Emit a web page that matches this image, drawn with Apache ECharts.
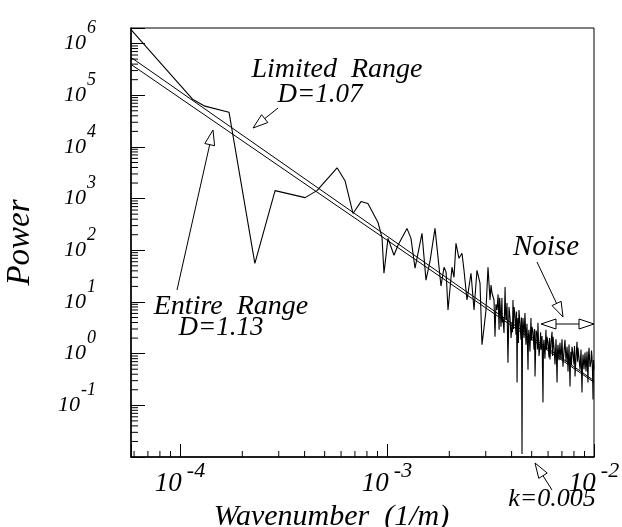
<!DOCTYPE html>
<html>
<head>
<meta charset="utf-8">
<script src="https://cdn.jsdelivr.net/npm/echarts@6/dist/echarts.min.js"></script>
<style>
html, body { margin: 0; padding: 0; background: #fff; }
#chart { width: 622px; height: 527px; }
</style>
</head>
<body>
<div id="chart"></div>
<script>
// spectrum (wavenumber in 1/m, power)
var wavenumber = [
  5.80e-5, 1.15e-4, 1.32e-4, 1.725e-4, 2.30e-4, 2.88e-4, 4.02e-4, 4.59e-4, 5.74e-4, 6.27e-4,
  6.85e-4, 7.49e-4, 8.09e-4, 9.05e-4, 9.46e-4, 9.67e-4, 1.011e-3, 1.081e-3, 1.130e-3, 1.249e-3,
  1.306e-3, 1.366e-3, 1.476e-3, 1.543e-3, 1.613e-3, 1.706e-3, 1.744e-3, 1.823e-3, 1.886e-3, 1.93e-3,
  1.971e-3, 2.061e-3, 2.107e-3, 2.154e-3, 2.227e-3, 2.303e-3, 2.355e-3, 2.435e-3, 2.546e-3, 2.633e-3,
  2.721e-3, 2.814e-3, 2.877e-3, 2.942e-3, 3.008e-3, 3.076e-3, 3.146e-3, 3.181e-3, 3.215e-3, 3.288e-3,
  3.325e-3, 3.36e-3, 3.40e-3, 3.44e-3, 3.48e-3, 3.50e-3, 3.52e-3, 3.555e-3, 3.59e-3, 3.61e-3,
  3.63e-3, 3.675e-3, 3.72e-3, 3.74e-3, 3.76e-3, 3.80e-3, 3.84e-3, 3.885e-3, 3.93e-3, 3.975e-3,
  4.02e-3, 4.04e-3, 4.06e-3, 4.085e-3, 4.11e-3, 4.155e-3, 4.20e-3, 4.225e-3, 4.25e-3, 4.27e-3,
  4.29e-3, 4.315e-3, 4.34e-3, 4.39e-3, 4.44e-3, 4.465e-3, 4.49e-3, 4.515e-3, 4.54e-3, 4.59e-3,
  4.64e-3, 4.665e-3, 4.69e-3, 4.745e-3, 4.80e-3, 4.825e-3, 4.85e-3, 4.905e-3, 4.96e-3, 4.99e-3,
  5.02e-3, 5.075e-3, 5.13e-3, 5.16e-3, 5.19e-3, 5.25e-3, 5.31e-3, 5.335e-3, 5.36e-3, 5.425e-3,
  5.49e-3, 5.52e-3, 5.55e-3, 5.61e-3, 5.67e-3, 5.70e-3, 5.73e-3, 5.795e-3, 5.86e-3, 5.895e-3,
  5.93e-3, 5.995e-3, 6.06e-3, 6.095e-3, 6.13e-3, 6.20e-3, 6.27e-3, 6.305e-3, 6.34e-3, 6.41e-3,
  6.48e-3, 6.555e-3, 6.63e-3, 6.665e-3, 6.70e-3, 6.775e-3, 6.85e-3, 6.89e-3, 6.93e-3, 7.005e-3,
  7.08e-3, 7.16e-3, 7.24e-3, 7.325e-3, 7.41e-3, 7.45e-3, 7.49e-3, 7.575e-3, 7.66e-3, 7.70e-3,
  7.74e-3, 7.785e-3, 7.83e-3, 7.915e-3, 8.00e-3, 8.05e-3, 8.10e-3, 8.19e-3, 8.28e-3, 8.325e-3,
  8.37e-3, 8.465e-3, 8.56e-3, 8.655e-3, 8.75e-3, 8.80e-3, 8.85e-3, 8.95e-3, 9.05e-3, 9.10e-3,
  9.15e-3, 9.25e-3, 9.35e-3, 9.405e-3, 9.46e-3, 9.565e-3, 9.67e-3, 9.725e-3, 9.78e-3, 9.835e-3,
  9.89e-3, 9.945e-3, 1.00e-2
];
var power = [
  1.86e6, 8.4e4, 6.15e4, 4.7e4, 56, 1425, 1045, 1425, 3945, 2220,
  515, 876, 801, 345, 178, 36, 170, 80, 125, 265,
  170, 45, 212, 26.5, 61, 265, 114, 20.3, 47, 37.8,
  7.0, 47, 30, 136, 70, 87.5, 41, 10.9, 36, 7.0,
  41, 23.2, 1.49, 3.16, 7.0, 47, 10.9, 21.2, 14.9, 10.9,
  2.12, 9.0, 7.0, 14, 2.9, 12, 8.75, 3.3, 11.9, 4.0,
  5.1, 2.5, 19.4, 6.0, 4.5, 9.5, 0.67, 8.0, 4.9, 2.0,
  4.1, 2.6, 10.9, 3.0, 8.0, 5.5, 2.32, 6.5, 0.277, 3.5,
  4.9, 1.6, 7.0, 3.9, 1.86, 5.0, 0.0114, 3.0, 4.9, 2.0,
  6.1, 3.2, 1.49, 3.8, 0.49, 2.2, 2.9, 1.1, 4.9, 1.8,
  3.3, 2.6, 1.19, 3.0, 0.36, 2.8, 2.32, 1.2, 3.95, 0.9,
  1.49, 2.6, 1.19, 2.2, 0.114, 1.4, 1.86, 0.8, 2.9, 1.2,
  2.12, 1.6, 0.84, 2.0, 0.77, 1.7, 2.65, 0.9, 2.12, 1.3,
  0.615, 1.9, 0.277, 1.1, 1.49, 0.75, 1.63, 1.0, 0.77, 1.9,
  0.56, 1.1, 1.86, 0.7, 1.36, 0.9, 0.45, 1.5, 0.232, 0.8,
  1.09, 0.6, 1.36, 1.0, 0.615, 1.4, 0.36, 0.9, 1.70, 0.7,
  1.30, 0.8, 0.49, 1.2, 0.178, 0.6, 0.957, 0.5, 1.05, 0.65,
  0.45, 1.1, 0.277, 0.9, 1.30, 0.55, 0.70, 1.15, 0.875, 0.45,
  0.130, 0.75, 0.49
];

// fitted power laws, end points
var limitedK = [5.8e-5, 1e-2];
var limitedP = [5.4e5, 0.30];
var entireK = [5.8e-5, 1e-2];
var entireP = [3.95e5, 0.28];

// axes
var xMin = 5.8e-5, xMax = 1e-2;
var yMin = 1e-2, yMax = 2e6;
var xLabelExp = [-4, -3, -2];
var yLabelExp = [-1, 0, 1, 2, 3, 4, 5, 6];

var serif = 'Liberation Serif';

function zip(a, b) {
  return a.map(function (v, i) { return [v, b[i]]; });
}

function expOf(v, list) {
  var l = Math.log10(v);
  var e = Math.round(l);
  if (Math.abs(l - e) > 1e-6 || list.indexOf(e) < 0) return null;
  return e;
}

// minor ticks 2..9 per decade
var xMinor = [], yMinor = [];
for (var d = -5; d <= -3; d++) {
  for (var m = 2; m <= 9; m++) {
    var v = m * Math.pow(10, d);
    if (v > xMin && v < xMax) xMinor.push([v, yMin]);
  }
}
for (var d2 = -2; d2 <= 6; d2++) {
  for (var m2 = 2; m2 <= 9; m2++) {
    var w = m2 * Math.pow(10, d2);
    if (w > yMin && w < yMax) yMinor.push([xMin, w]);
  }
}

function arrow(x1, y1, x2, y2) {
  var a = Math.atan2(y2 - y1, x2 - x1);
  var L = 15, W = 5;
  var bx = x2 - L * Math.cos(a), by = y2 - L * Math.sin(a);
  var px = -Math.sin(a) * W, py = Math.cos(a) * W;
  return [
    { type: 'line', shape: { x1: x1, y1: y1, x2: bx, y2: by }, style: { stroke: '#000', lineWidth: 1 } },
    { type: 'polygon', shape: { points: [[x2, y2], [bx + px, by + py], [bx - px, by - py]] },
      style: { fill: '#fff', stroke: '#000', lineWidth: 1 } }
  ];
}

function label(text, x, y, size) {
  return {
    type: 'text', x: x, y: y,
    style: { text: text, font: 'italic ' + size + 'px "' + serif + '"', fill: '#000', align: 'center', verticalAlign: 'middle' }
  };
}

var graphics = [
  label('Limited  Range', 337, 70, 28),
  label('D=1.07', 320, 95, 27),
  label('Entire  Range', 231, 307, 28),
  label('D=1.13', 221, 328, 27),
  label('Noise', 546, 247, 29),
  label('k=0.005', 552, 499, 26)
]
  .concat(arrow(278, 108, 253, 128))
  .concat(arrow(177, 290, 213, 130))
  .concat(arrow(537, 262, 563, 317))
  .concat(arrow(568, 324, 541, 324))
  .concat(arrow(568, 324, 594, 324))
  .concat(arrow(552, 490, 535, 463));

var chart = echarts.init(document.getElementById('chart'));

var option = {
  animation: false,
  backgroundColor: '#fff',
  grid: {
    left: 131, right: 28, top: 28, bottom: 70, outerBoundsMode: 'none',
    show: true, borderColor: '#000', borderWidth: 1
  },
  xAxis: {
    type: 'log', logBase: 10, min: xMin, max: xMax,
    name: 'Wavenumber  (1/m)', nameLocation: 'middle', nameGap: 31,
    nameTextStyle: { fontFamily: serif, fontStyle: 'italic', fontSize: 30, color: '#000', padding: [0, 62, 0, 0] },
    axisLine: { lineStyle: { color: '#000', width: 1.5 } },
    axisTick: { inside: true, length: 13, lineStyle: { color: '#000' } },
    splitLine: { show: false },
    axisLabel: {
      margin: 3,
      formatter: function (v) {
        var e = expOf(v, xLabelExp);
        return e === null ? '' : '{b|10}{s|' + e + '}';
      },
      rich: {
        b: { fontFamily: serif, fontStyle: 'italic', fontSize: 27, color: '#000' },
        s: { fontFamily: serif, fontStyle: 'italic', fontSize: 22, color: '#000', padding: [0, 0, 26, 5] }
      }
    }
  },
  yAxis: {
    type: 'log', logBase: 10, min: yMin, max: yMax,
    name: 'Power', nameLocation: 'middle', nameGap: 94,
    nameTextStyle: { fontFamily: serif, fontStyle: 'italic', fontSize: 33, color: '#000' },
    axisLine: { lineStyle: { color: '#000', width: 1.5 } },
    axisTick: { inside: true, length: 14, lineStyle: { color: '#000' } },
    splitLine: { show: false },
    axisLabel: {
      margin: 35,
      formatter: function (v) {
        var e = expOf(v, yLabelExp);
        return e === null ? '' : '{b|10}{s|' + e + '}';
      },
      rich: {
        b: { fontFamily: serif, fontStyle: 'italic', fontSize: 22, color: '#000' },
        s: { fontFamily: serif, fontStyle: 'italic', fontSize: 18, color: '#000', padding: [0, 0, 30, 1] }
      }
    }
  },
  series: [
    {
      name: 'spectrum', type: 'line', data: zip(wavenumber, power),
      symbol: 'none', lineStyle: { color: '#000', width: 1.1 }, z: 3
    },
    {
      name: 'Limited Range', type: 'line', data: zip(limitedK, limitedP),
      symbol: 'none', lineStyle: { color: '#000', width: 1 }, z: 2
    },
    {
      name: 'Entire Range', type: 'line', data: zip(entireK, entireP),
      symbol: 'none', lineStyle: { color: '#000', width: 1 }, z: 2
    },
    {
      type: 'custom', silent: true, data: xMinor,
      renderItem: function (params, api) {
        var p = api.coord([api.value(0), api.value(1)]);
        return { type: 'line', shape: { x1: p[0], y1: p[1], x2: p[0], y2: p[1] - 6 }, style: { stroke: '#000', lineWidth: 1 } };
      }
    },
    {
      type: 'custom', silent: true, data: yMinor,
      renderItem: function (params, api) {
        var p = api.coord([api.value(0), api.value(1)]);
        return { type: 'line', shape: { x1: p[0], y1: p[1], x2: p[0] + 7, y2: p[1] }, style: { stroke: '#000', lineWidth: 1 } };
      }
    }
  ],
  graphic: graphics
};

chart.setOption(option);
window.addEventListener('resize', function () {
  chart.resize();
});
</script>
</body>
</html>
